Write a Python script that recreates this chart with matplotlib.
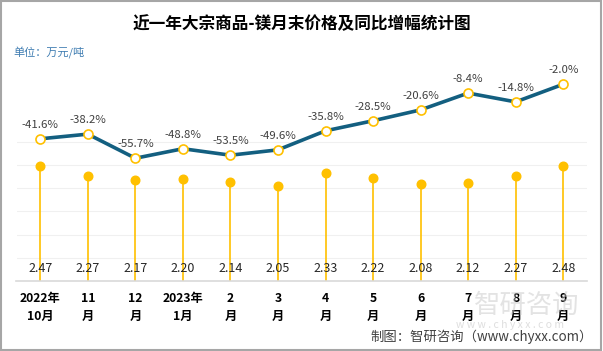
import numpy as np
import matplotlib
matplotlib.use("Agg")
from matplotlib import pyplot as plt
from matplotlib.patches import Rectangle

plt.rcParams['font.family'] = ['Noto Sans CJK SC', 'DejaVu Sans']
plt.rcParams['axes.unicode_minus'] = False

# data
months = ['2022年\n10月', '11\n月', '12\n月', '2023年\n1月', '2\n月', '3\n月',
          '4\n月', '5\n月', '6\n月', '7\n月', '8\n月', '9\n月']
price = [2.47, 2.27, 2.17, 2.20, 2.14, 2.05, 2.33, 2.22, 2.08, 2.12, 2.27, 2.48]
growth = [-41.6, -38.2, -55.7, -48.8, -53.5, -49.6, -35.8, -28.5, -20.6, -8.4, -14.8, -2.0]

gold = '#FFC000'
teal = '#135F80'
txt = '#404040'

fig = plt.figure(figsize=(6.03, 3.51), dpi=100)
fig.patch.set_facecolor('white')
fig.patches.append(Rectangle((0.001, 0.002), 0.996, 0.995, transform=fig.transFigure,
                             fill=False, edgecolor='#A6A6A6', linewidth=1.5))

ax = fig.add_axes([16.5/603, 70/351, 570.5/603, 221/351])
x = np.arange(len(months))

# lollipops (price)
ax.vlines(x, 0, price, color=gold, linewidth=1.2, zorder=2)
ax.plot(x, price, 'o', color=gold, markersize=6.2, zorder=3)
for xi, p in zip(x, price):
    ax.text(xi, 0.26, f'{p:.2f}', ha='center', va='center', fontsize=9, color='#262626', zorder=4)

ax.set_xlim(-0.5, len(months) - 0.5)
ax.set_ylim(0, 221/46.4)
for g in np.arange(0.5, 3.01, 0.5):
    ax.axhline(g, color='#F0F0F0', linewidth=0.8, zorder=0)
for s in ['top', 'right', 'left']:
    ax.spines[s].set_visible(False)
ax.spines['bottom'].set_color('#D9D9D9')
ax.spines['bottom'].set_linewidth(1.2)
ax.set_yticks([])
ax.set_xticks(x)
ax.set_xticklabels(months, fontsize=8.8, fontweight='bold', linespacing=1.5, color='black')
ax.tick_params(axis='x', length=0, pad=8)

# growth line on twin axis
ax2 = ax.twinx()
ax2.set_ylim(-144.8, 15.6)
ax2.plot(x, growth, color=teal, linewidth=2.6, zorder=3)
ax2.plot(x, growth, 'o', markerfacecolor='white', markeredgecolor=gold,
         markeredgewidth=1.2, markersize=6.5, zorder=4)
for xi, g in zip(x, growth):
    ax2.annotate(f'{g:.1f}%', (xi, g), xytext=(0, 6.5), textcoords='offset points',
                 ha='center', va='bottom', fontsize=8.2, color=txt)
ax2.set_yticks([])
for s in ax2.spines.values():
    s.set_visible(False)

# titles and notes
fig.text(0.5, 1 - 24/351, '近一年大宗商品-镁月末价格及同比增幅统计图', ha='center', va='center',
         fontsize=12, fontweight='bold', color='black')
fig.text(13/603, 1 - 53/351, '单位：万元/吨', ha='left', va='center', fontsize=8, color='#3E7CB1')

# watermark
fig.text(527/603, 1 - 305/351, '智研咨询', ha='center', va='center', fontsize=19,
         color='#C8C8C8', alpha=0.5, zorder=0)
fig.text(510/603, 1 - 325/351, 'w w w . c h y x x . c o m', ha='center', va='center', fontsize=7.5,
         color='#C8C8C8', alpha=0.6, zorder=0)

fig.text(593/603, 1 - 337/351, '制图：智研咨询（www.chyxx.com）', ha='right', va='center',
         fontsize=9.6, color=txt)

fig.savefig('out.png', dpi=100)
